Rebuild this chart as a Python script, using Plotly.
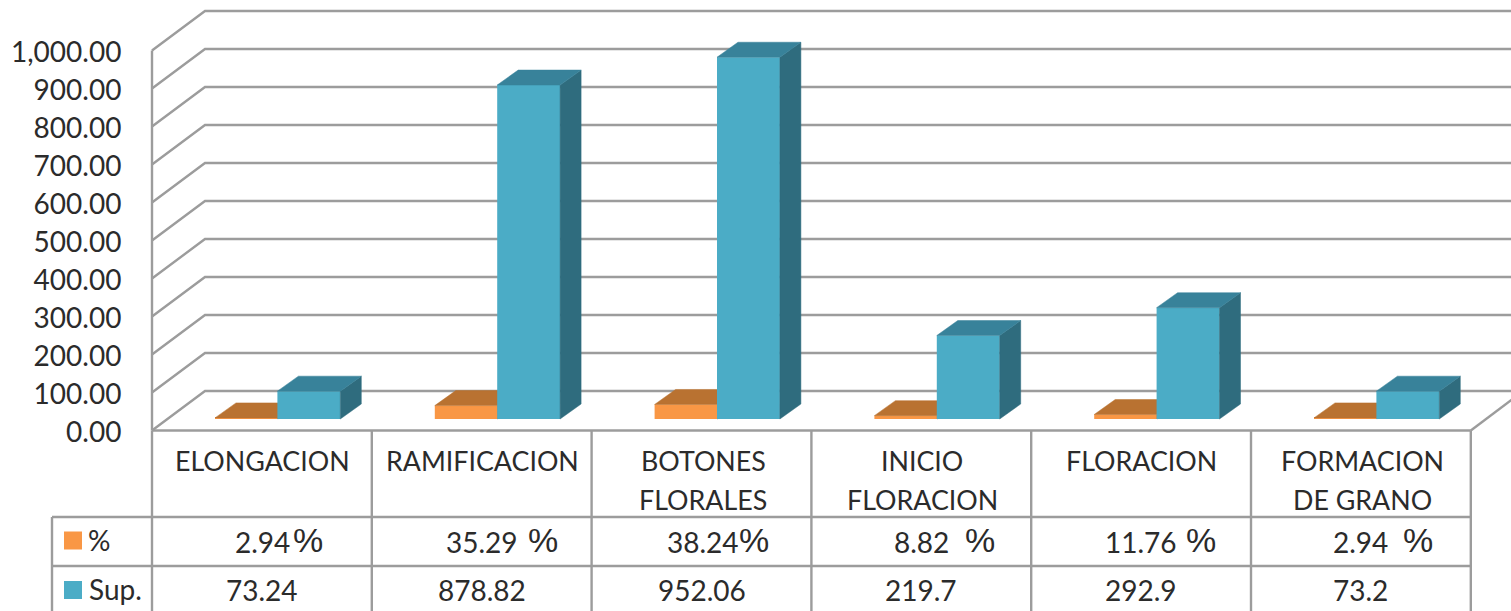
import plotly.graph_objects as go

# ---- data ----
stages_line1 = ["ELONGACION", "RAMIFICACION", "BOTONES", "INICIO", "FLORACION", "FORMACION"]
stages_line2 = ["", "", "FLORALES", "FLORACION", "", "DE GRANO"]
pct_values = [2.94, 35.29, 38.24, 8.82, 11.76, 2.94]
sup_values = [73.24, 878.82, 952.06, 219.7, 292.9, 73.2]
y_ticks = [0, 100, 200, 300, 400, 500, 600, 700, 800, 900, 1000]

# ---- geometry of the fake 3-D view (pixels -> axis units) ----
W, H = 1511, 611
X0_PX, CAT_PX = 152.0, 219.8
Y0_PX, PX_PER_UNIT = 430.5, 0.38
xr = lambda px: (px - X0_PX) / CAT_PX
yr = lambda px: (Y0_PX - px) / PX_PER_UNIT
pyp = lambda px: 1 - px / H

WALL_DX, WALL_DY = 53 / CAT_PX, 39.5 / PX_PER_UNIT
BAR_W = 62.9 / CAT_PX
BAR_BASE = 11.5 / PX_PER_UNIT
BAR_DX, BAR_DY = 21 / CAT_PX, 15 / PX_PER_UNIT
N = len(sup_values)

GRID = "#9c9c9c"
TXT = "#2b2b2b"
FONT = "Lato"
ORANGE, ORANGE_TOP, ORANGE_SIDE = "#F99745", "#B97231", "#A8642A"
BLUE, BLUE_TOP, BLUE_SIDE = "#4BACC6", "#38829A", "#2F6C7E"

fig = go.Figure()

# walls
gx, gy = [], []
for v in y_ticks:
    gx += [0, WALL_DX, xr(W + 5), None]
    gy += [v, v + WALL_DY, v + WALL_DY, None]
fig.add_trace(go.Scatter(x=gx, y=gy, mode="lines", line=dict(color=GRID, width=2.4),
                         hoverinfo="skip", showlegend=False))
# left axis, right floor edge, table
tx = [0, 0, None, N, xr(W + 5), None]
ty = [0, 1000, None, 0, (W + 5 - (X0_PX + N * CAT_PX)) * 0.75 / PX_PER_UNIT, None]
for row_px, start in [(Y0_PX, 0), (517, xr(52)), (566, xr(52))]:
    tx += [start, N, None]
    ty += [yr(row_px), yr(row_px), None]
for i in range(N + 1):
    tx += [i, i, None]
    ty += [0, yr(H + 5), None]
tx += [xr(52), xr(52)]
ty += [yr(517), yr(H + 5)]
fig.add_trace(go.Scatter(x=tx, y=ty, mode="lines", line=dict(color=GRID, width=2.4),
                         hoverinfo="skip", showlegend=False))


def faces(values, offset, top_col, side_col, xa, ya):
    for i, v in enumerate(values):
        l, r = i + offset, i + offset + BAR_W
        t = BAR_BASE + v
        fig.add_trace(go.Scatter(
            x=[r, r + BAR_DX, r + BAR_DX, r, r],
            y=[BAR_BASE, BAR_BASE + BAR_DY, t + BAR_DY, t, BAR_BASE],
            fill="toself", fillcolor=side_col, mode="lines", line=dict(color=side_col, width=0.5),
            hoverinfo="skip", showlegend=False, xaxis=xa, yaxis=ya))
        fig.add_trace(go.Scatter(
            x=[l, r, r + BAR_DX, l + BAR_DX, l],
            y=[t, t, t + BAR_DY, t + BAR_DY, t],
            fill="toself", fillcolor=top_col, mode="lines", line=dict(color=top_col, width=0.5),
            hoverinfo="skip", showlegend=False, xaxis=xa, yaxis=ya))


OFF_O = 63 / CAT_PX
OFF_B = 125.4 / CAT_PX

fig.add_trace(go.Bar(x=list(range(N)), y=pct_values, base=BAR_BASE, width=BAR_W, offset=OFF_O,
                     marker=dict(color=ORANGE, line=dict(width=0)), name="%", showlegend=False))
faces(pct_values, OFF_O, ORANGE_TOP, ORANGE_SIDE, "x", "y")

fig.add_trace(go.Bar(x=list(range(N)), y=sup_values, base=BAR_BASE, width=BAR_W, offset=OFF_B,
                     marker=dict(color=BLUE, line=dict(width=0)), name="Sup.", showlegend=False,
                     xaxis="x2", yaxis="y2"))
faces(sup_values, OFF_B, BLUE_TOP, BLUE_SIDE, "x2", "y2")

# legend keys of the data table
fig.add_trace(go.Scatter(x=[xr(73)], y=[yr(540.5)], mode="markers",
                         marker=dict(symbol="square", size=18, color=ORANGE),
                         hoverinfo="skip", showlegend=False))
fig.add_trace(go.Scatter(x=[xr(73)], y=[yr(590)], mode="markers",
                         marker=dict(symbol="square", size=18, color=BLUE),
                         hoverinfo="skip", showlegend=False))


def label(x_px, y_px, text, size=28, family=FONT):
    fig.add_annotation(x=xr(x_px), xref="x", y=pyp(y_px), yref="paper", text=text, showarrow=False,
                       xanchor="center", yanchor="middle",
                       font=dict(family=family, size=size, color=TXT))


name_x = [262, 482, 703, 922, 1141, 1362]
pct_x = [262, 482, 703, 921, 1141, 1360]
sign_x = [308, 543, 754, 980, 1201, 1418]
sup_x = [262, 482, 702, 921, 1141, 1360]
for i in range(N):
    label(name_x[i], 461, stages_line1[i], size=26.8)
    if stages_line2[i]:
        label(name_x[i], 500, stages_line2[i], size=26.8)
    label(pct_x[i], 542, f"{pct_values[i]:.2f}")
    label(sign_x[i], 540, "%", size=34, family="Liberation Sans")
    label(sup_x[i], 590, f"{sup_values[i]:g}")
label(99, 540, "%")
label(115, 589, "Sup.")

fig.update_layout(
    width=W, height=H, margin=dict(l=0, r=0, t=0, b=0), autosize=False,
    paper_bgcolor="white", plot_bgcolor="white", barmode="overlay", showlegend=False,
    xaxis=dict(range=[xr(0), xr(W)], visible=False, domain=[0, 1], fixedrange=True),
    xaxis2=dict(range=[xr(0), xr(W)], visible=False, domain=[0, 1], overlaying="x", anchor="y2"),
    yaxis=dict(range=[yr(H), yr(0)], domain=[0, 1], anchor="free", position=X0_PX / W,
               showgrid=False, zeroline=False, showline=False,
               tickmode="array", tickvals=y_ticks,
               ticktext=[f"{v:,.2f}" for v in y_ticks],
               ticks="outside", ticklen=25, tickcolor="rgba(0,0,0,0)", ticklabelshift=2,
               tickfont=dict(family=FONT, size=28, color=TXT)),
    yaxis2=dict(range=[yr(H), yr(0)], domain=[0, 1], overlaying="y", anchor="x2", visible=False),
)

fig.write_html("out.html", config={"displayModeBar": False},
               post_script="document.body.style.margin='0';document.documentElement.style.overflow='hidden';")
